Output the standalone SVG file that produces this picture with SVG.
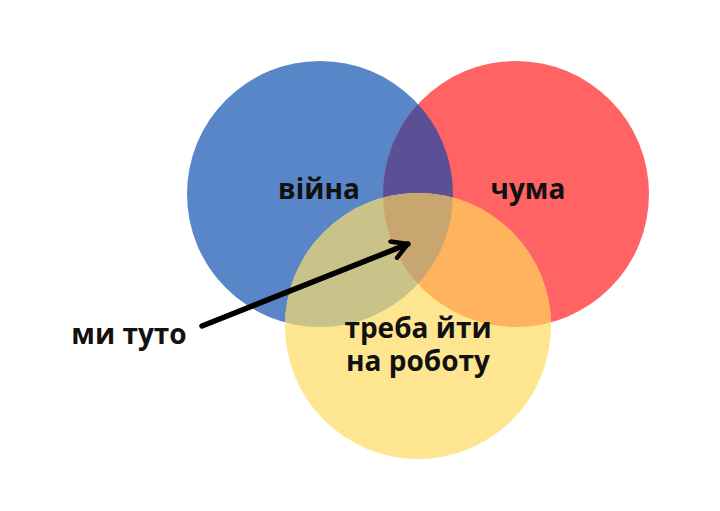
<svg xmlns="http://www.w3.org/2000/svg" width="720" height="511" viewBox="0 0 720 511">
<style>
.lbl{font-family:"Open Sans","Noto Sans","Liberation Sans",sans-serif;font-weight:700;font-size:28px;fill:#111;text-anchor:middle}
.conn{stroke:#000;stroke-width:5.5;fill:none;stroke-linecap:round;stroke-linejoin:round}
</style>
<defs>
<clipPath id="cBlue"><circle cx="320" cy="194" r="133"/></clipPath>
<clipPath id="cRed"><circle cx="516" cy="194" r="133"/></clipPath>
<marker id="arr" viewBox="0 0 10 10" refX="8" refY="5" markerWidth="4" markerHeight="4" orient="auto" markerUnits="strokeWidth">
<path d="M1,1 L8,5 L1,9" fill="none" stroke="#000" stroke-width="2" stroke-linecap="round" stroke-linejoin="round"/>
</marker>
</defs>
<rect width="720" height="511" fill="#fff"/>
<g id="war">
<circle cx="320" cy="194" r="133" fill="#5886C9"/>
</g>
<g id="plague">
<circle cx="516" cy="194" r="133" fill="#FF6363"/>
</g>
<g id="work">
<circle cx="418" cy="326" r="133" fill="#FEE691"/>
</g>
<g id="overlaps">
<circle cx="516" cy="194" r="133" fill="#5B4F96" clip-path="url(#cBlue)"/>
<circle cx="418" cy="326" r="133" fill="#C9C38A" clip-path="url(#cBlue)"/>
<circle cx="418" cy="326" r="133" fill="#FEB35C" clip-path="url(#cRed)"/>
<g clip-path="url(#cBlue)"><circle cx="418" cy="326" r="133" fill="#C8A66F" clip-path="url(#cRed)"/></g>
</g>
<g id="labels">
<text class="lbl" x="319" y="199">війна</text>
<text class="lbl" x="528" y="199">чума</text>
<text class="lbl"><tspan x="418" y="338">треба йти</tspan><tspan x="418" y="371">на роботу</tspan></text>
<text class="lbl" x="129" y="344">ми туто</text>
</g>
<g id="connectors">
<path class="conn" d="M202,326 L408,244" marker-end="url(#arr)"/>
</g>
</svg>
